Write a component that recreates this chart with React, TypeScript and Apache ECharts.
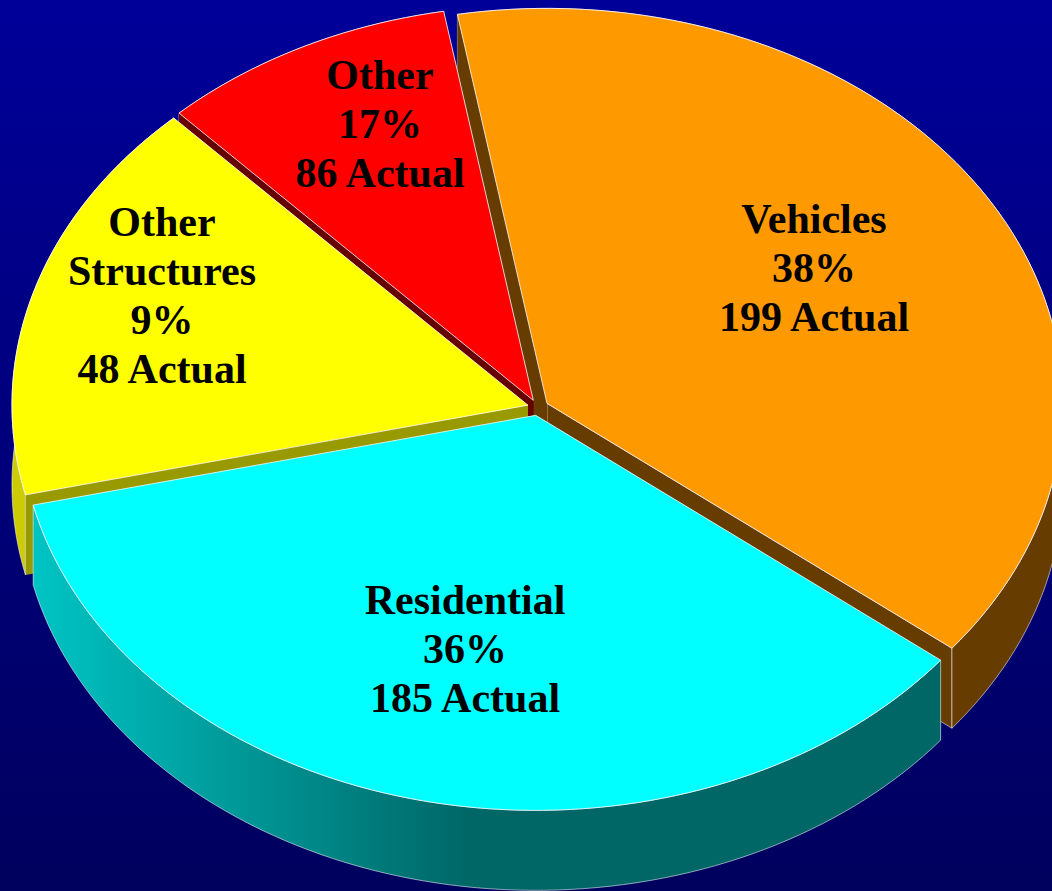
import React, { useEffect, useRef } from "react";
import * as echarts from "echarts";

// Clockwise from the top. The source picture draws the yellow slice at 17% of the
// circle and the red one at 9%, although their printed labels say the opposite,
// so the angular sizes and the printed labels are kept apart.
const categories = ["Vehicles", "Residential", "Other\nStructures", "Other"];
const percentLabels = ["38%", "36%", "9%", "17%"];
const actualLabels = ["199 Actual", "185 Actual", "48 Actual", "86 Actual"];
const sliceValues = [199, 185, 86, 48];
const drawOrder = [0, 3, 2, 1];

const topColors = ["#FF9900", "#00FFFF", "#FFFF00", "#FF0000"];
const innerWallColors = ["#663C00", "#006666", "#999900", "#660000"];

const WIDTH = 1052;
const HEIGHT = 891;
const CX = 538;
const CY = 407.5;
const RX = 516;
const RY = 395;
const DEPTH = 80;
const EXPLODE = 10.5;
const START_DEG = -10;
const labelCenters = [
  [814, 268],
  [465, 649],
  [162, 295],
  [380, 124],
];

const total = sliceValues.reduce((a, b) => a + b, 0);
const rad = (d: number) => (d * Math.PI) / 180;

function sliceAngles(i: number) {
  let a = START_DEG;
  for (let k = 0; k < i; k++) a += (sliceValues[k] / total) * 360;
  return [a, a + (sliceValues[i] / total) * 360];
}

function sliceGeometry(i: number) {
  const [a0, a1] = sliceAngles(i);
  const mid = rad((a0 + a1) / 2);
  const ox = CX + EXPLODE * Math.sin(mid);
  const oy = CY - EXPLODE * (RY / RX) * Math.cos(mid);
  const arc: number[][] = [];
  const steps = Math.max(8, Math.ceil((a1 - a0) / 1.5));
  for (let s = 0; s <= steps; s++) {
    const t = rad(a0 + ((a1 - a0) * s) / steps);
    arc.push([ox + RX * Math.sin(t), oy - RY * Math.cos(t)]);
  }
  return { apex: [ox, oy], arc };
}

const down = (p: number[]) => [p[0], p[1] + DEPTH];

function outerWallFill(i: number): any {
  if (i === 0) return "#663C00";
  if (i === 2) return "#CCCC00";
  if (i === 3) return "#660000";
  return new echarts.graphic.LinearGradient(
    33,
    0,
    470,
    0,
    [
      { offset: 0, color: "#00C4C4" },
      { offset: 1, color: "#006666" },
    ],
    true
  );
}

export default function App() {
  const ref = useRef<HTMLDivElement>(null);
  useEffect(() => {
    document.body.style.margin = "0";
    const chart = echarts.init(ref.current!, undefined, { renderer: "svg" });
    const edge = "rgba(255,255,255,0.8)";
    const wallEdge = "rgba(255,255,255,0.55)";
    chart.setOption({
      animation: false,
      backgroundColor: new echarts.graphic.LinearGradient(0, 0, 0, 1, [
        { offset: 0, color: "#000099" },
        { offset: 1, color: "#00005E" },
      ]),
      series: [
        {
          type: "custom",
          coordinateSystem: "none",
          silent: true,
          data: drawOrder.map((i) => [i, sliceValues[i]]),
          renderItem: (_p: any, api: any) => {
            const i = api.value(0) as number;
            const { apex, arc } = sliceGeometry(i);
            const first = arc[0];
            const last = arc[arc.length - 1];
            const poly = (points: number[][], fill: any, stroke: string) => ({
              type: "polygon",
              shape: { points },
              style: { fill, stroke, lineWidth: 1 },
            });
            const wallFor = (corner: number[], stroke: string) =>
              poly([apex, corner, down(corner), down(apex)], innerWallColors[i], stroke);
            const outer = poly([...arc, ...arc.map(down).reverse()], outerWallFill(i), wallEdge);
            // A radial wall that ends on the near half of the rim sits behind the rim wall;
            // one that ends on the far half shows in front of it, through the gap.
            const isNear = (corner: number[]) => corner[1] > apex[1];
            const endStroke = i === 0 ? wallEdge : "none";
            const behind: any[] = [];
            const inFront: any[] = [];
            (isNear(first) ? behind : inFront).push(wallFor(first, "none"));
            (isNear(last) ? behind : inFront).push(wallFor(last, endStroke));
            return {
              type: "group",
              children: [...behind, outer, ...inFront, poly([apex, ...arc], topColors[i], edge)],
            };
          },
        },
        {
          type: "custom",
          coordinateSystem: "none",
          silent: true,
          z: 5,
          data: categories.map((_c, i) => [i]),
          renderItem: (_p: any, api: any) => {
            const i = api.value(0) as number;
            return {
              type: "text",
              style: {
                text: `${categories[i]}\n${percentLabels[i]}\n${actualLabels[i]}`,
                x: labelCenters[i][0],
                y: labelCenters[i][1],
                fill: "#000000",
                font: 'bold 42px "Liberation Serif", "Times New Roman", serif',
                lineHeight: 49,
                align: "center",
                verticalAlign: "middle",
              },
            };
          },
        },
      ],
    });
    return () => chart.dispose();
  }, []);
  return (
    <div
      ref={ref}
      style={{ position: "absolute", left: 0, top: 0, width: WIDTH, height: HEIGHT }}
    />
  );
}
